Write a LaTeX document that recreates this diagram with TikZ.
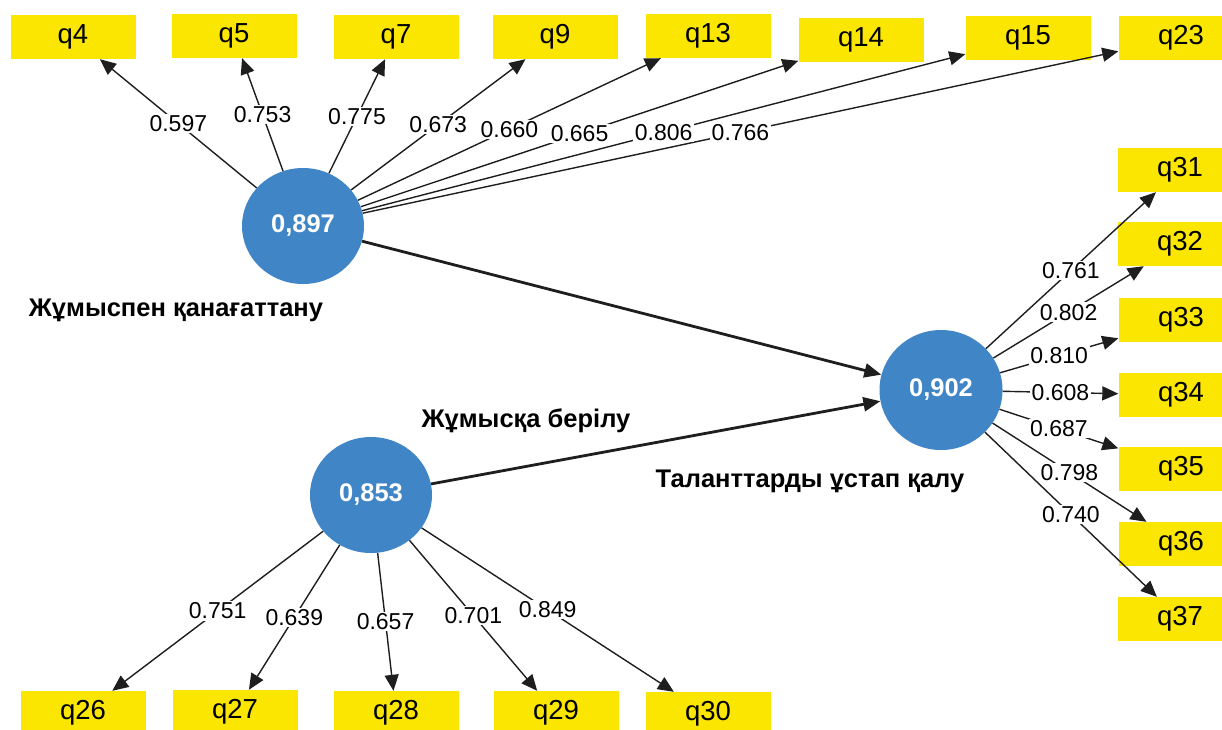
\documentclass[tikz,border=0pt]{standalone}
\usepackage{fontspec}
\setmainfont{Liberation Sans}
\usetikzlibrary{shapes.geometric,arrows.meta}
\definecolor{qyellow}{RGB}{250,230,0}
\definecolor{cblue}{RGB}{64,133,198}
\definecolor{linec}{RGB}{30,30,30}
\begin{document}
\begin{tikzpicture}[x=1pt,y=-1pt,
  qbox/.style={fill=qyellow, minimum width=125pt, minimum height=44pt, inner sep=0pt, font=\fontsize{27.5}{30}\selectfont},
  lv/.style={ellipse, fill=cblue, minimum width=122pt, minimum height=116pt, inner sep=0pt, text=white, font=\fontsize{25.5}{28}\selectfont\bfseries},
  ld/.style={draw=linec, line width=1.4pt, -{Triangle[length=16pt,width=14pt]}},
  sd/.style={draw=linec, line width=2.8pt, -{Triangle[length=17pt,width=14pt]}},
  lbl/.style={fill=white, inner sep=1.5pt, font=\fontsize{23}{25}\selectfont},
  ttl/.style={font=\fontsize{25.5}{28}\selectfont\bfseries, inner sep=0pt}
]
\useasboundingbox (0,0) rectangle (1222,729);
\clip (0,0) rectangle (1222,729);

% latent variables
\node[lv] (c1) at (303,226) {0,897};
\node[lv] (c2) at (371,495) {0,853};
\node[lv, minimum width=123pt, minimum height=120pt] (c3) at (941,390) {0,902};

% titles
\node[ttl] (t1) at (176,310) {Жұмыспен қанағаттану};
\node[ttl] (t2) at (526,421) {Жұмысқа берілу};
\node[ttl] (t3) at (810,481) {Таланттарды ұстап қалу};

% indicator boxes top
\node[qbox] (q4)  at (73,37)   {q4};
\node[qbox] (q5)  at (234,36)  {q5};
\node[qbox] (q7)  at (396,37)  {q7};
\node[qbox] (q9)  at (555,37)  {q9};
\node[qbox] (q13) at (708,36)  {q13};
\node[qbox] (q14) at (861,40)  {q14};
\node[qbox] (q15) at (1028,38) {q15};
\node[qbox] (q23) at (1181,38) {q23};
% right
\node[qbox] (q31) at (1180,170) {q31};
\node[qbox] (q32) at (1180,244) {q32};
\node[qbox] (q33) at (1181,320) {q33};
\node[qbox] (q34) at (1181,395) {q34};
\node[qbox] (q35) at (1181,469) {q35};
\node[qbox] (q36) at (1181,544) {q36};
\node[qbox] (q37) at (1180,619) {q37};
% bottom
\node[qbox] (q26) at (83,713)  {q26};
\node[qbox] (q27) at (235,712) {q27};
\node[qbox] (q28) at (396,713) {q28};
\node[qbox] (q29) at (556,713) {q29};
\node[qbox] (q30) at (708,714) {q30};

% structural paths
\draw[sd] (c1) -- (c3);
\draw[sd] (c2) -- (c3);

% loadings: lines
\foreach \t in {q4,q5,q7,q9,q13,q14,q15,q23}
  \draw[ld] (c1) -- (\t);
\foreach \t in {q31,q32,q33,q34,q35,q36,q37}
  \draw[ld] (c3) -- (\t);
\foreach \t in {q26,q27,q28,q29,q30}
  \draw[ld] (c2) -- (\t);

% loadings: labels
\foreach \t/\v in {q4/0.597,q5/0.753,q7/0.775,q9/0.673,q13/0.660,q14/0.665,q15/0.806,q23/0.766}
  \path (c1) -- (\t) node[lbl, midway] {\v};
\foreach \t/\v in {q31/0.761,q32/0.802,q33/0.810,q34/0.608,q35/0.687,q36/0.798,q37/0.740}
  \path (c3) -- (\t) node[lbl, midway] {\v};
\foreach \t/\v in {q26/0.751,q27/0.639,q28/0.657,q29/0.701,q30/0.849}
  \path (c2) -- (\t) node[lbl, midway] {\v};
\end{tikzpicture}
\end{document}
